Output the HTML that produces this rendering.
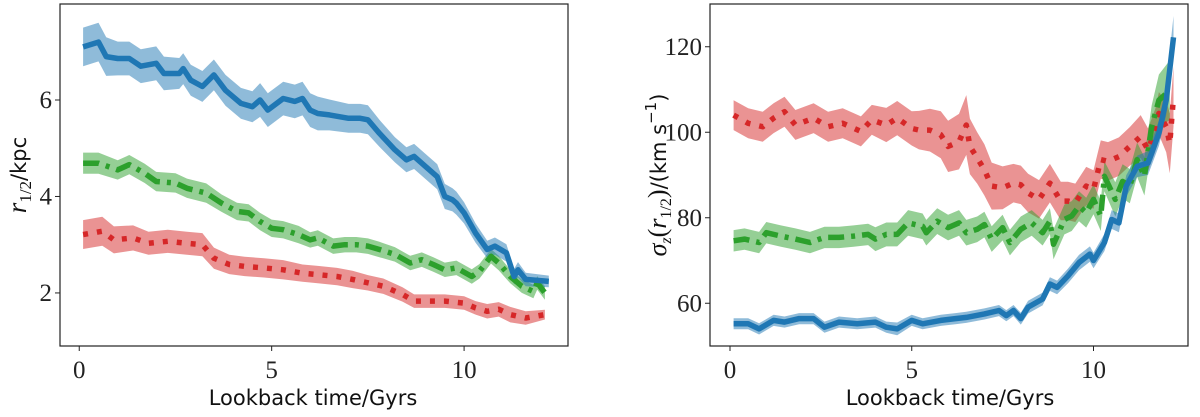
<!DOCTYPE html>
<html><head><meta charset="utf-8"><style>
html,body{margin:0;padding:0;background:#fff;}
svg{display:block;}
.tick{font-family:"Liberation Serif",serif;font-size:24px;fill:#222;}
.lab{font-family:"DejaVu Sans","Liberation Sans",sans-serif;font-size:21px;fill:#111;}
.math{font-family:"Liberation Serif",serif;font-style:italic;}
</style></head><body>
<svg id="chart" width="1200" height="417" viewBox="0 0 1200 417" xmlns="http://www.w3.org/2000/svg">
<g id="left"></g>
<g id="right"></g>
<text class="lab" x="313" y="405" text-anchor="middle">Lookback time/Gyrs</text>
<text class="lab" x="950" y="405" text-anchor="middle">Lookback time/Gyrs</text>
<text class="lab" transform="translate(26,175) rotate(-90)" text-anchor="middle" font-size="23"><tspan class="math" font-size="27">r</tspan><tspan font-size="17" dy="5" font-family="Liberation Serif">1/2</tspan><tspan dy="-5">/kpc</tspan></text>
<text class="lab" transform="translate(666,175) rotate(-90)" text-anchor="middle" font-size="22"><tspan class="math" font-size="26">σ</tspan><tspan class="math" font-size="16" dy="5">z</tspan><tspan dy="-5" font-family="Liberation Serif" font-size="26">(</tspan><tspan class="math" font-size="26">r</tspan><tspan font-size="16" dy="5" font-family="Liberation Serif">1/2</tspan><tspan dy="-5" font-family="Liberation Serif" font-size="26">)</tspan><tspan>/(km s</tspan><tspan font-size="15" dy="-10">−1</tspan><tspan dy="10">)</tspan></text>
</svg>
<script>
// ---- Left panel data (r_1/2 in kpc) ----
const lBlueX=[0.1,0.5,0.7,1.0,1.3,1.6,2.0,2.2,2.6,2.7,2.9,3.2,3.5,3.8,4.2,4.5,4.7,4.9,5.3,5.6,5.8,6.0,6.2,6.5,7.0,7.3,7.5,7.8,8.2,8.5,8.7,9.0,9.3,9.5,9.7,9.8,10.0,10.3,10.6,10.8,11.1,11.3,11.4,11.6,12.2];
const lBlueY=[7.10,7.2,6.9,6.86,6.86,6.7,6.76,6.55,6.55,6.65,6.41,6.28,6.52,6.2,5.93,5.86,6.0,5.79,6.03,5.97,6.03,5.79,5.72,5.69,5.62,5.62,5.59,5.31,4.97,4.76,4.83,4.62,4.41,4.0,3.93,3.86,3.66,3.24,2.9,2.97,2.83,2.34,2.48,2.28,2.24];
const lBlueE=[0.4,0.4,0.4,0.35,0.35,0.35,0.35,0.35,0.32,0.32,0.32,0.32,0.32,0.32,0.32,0.32,0.35,0.35,0.35,0.35,0.35,0.35,0.35,0.32,0.3,0.3,0.3,0.28,0.26,0.26,0.26,0.26,0.26,0.26,0.24,0.24,0.22,0.2,0.18,0.18,0.18,0.16,0.16,0.14,0.12];
const lGreenX=[0.1,0.5,1.0,1.3,1.7,2.0,2.5,2.8,3.3,3.7,4.1,4.4,4.7,5.0,5.3,5.7,6.0,6.2,6.6,6.9,7.2,7.5,7.8,8.2,8.6,8.9,9.2,9.5,9.8,10.2,10.4,10.7,10.9,11.2,11.5,11.8,11.9,12.1];
const lGreenY=[4.69,4.69,4.55,4.66,4.48,4.31,4.28,4.17,4.07,3.86,3.69,3.66,3.48,3.34,3.31,3.21,3.1,3.14,2.97,3.0,3.0,2.97,2.9,2.8,2.62,2.69,2.59,2.48,2.52,2.34,2.45,2.76,2.62,2.34,2.14,2.03,2.21,2.0];
const lGreenE=[0.22,0.22,0.2,0.2,0.2,0.2,0.2,0.2,0.2,0.18,0.18,0.18,0.18,0.18,0.18,0.18,0.16,0.16,0.16,0.16,0.16,0.16,0.16,0.15,0.15,0.15,0.15,0.15,0.15,0.15,0.15,0.15,0.15,0.14,0.14,0.14,0.14,0.14];
const lRedX=[0.1,0.6,0.9,1.4,1.8,2.3,2.8,3.2,3.5,3.9,4.3,4.8,5.3,5.8,6.2,6.7,7.1,7.5,7.9,8.4,8.7,9.1,9.5,10.0,10.3,10.6,10.9,11.2,11.6,12.1];
const lRedY=[3.21,3.28,3.1,3.14,3.03,3.07,3.03,3.0,2.72,2.59,2.55,2.52,2.48,2.41,2.38,2.34,2.28,2.21,2.14,1.97,1.83,1.83,1.83,1.79,1.69,1.62,1.66,1.55,1.48,1.55];
const lRedE=[0.3,0.3,0.28,0.26,0.24,0.24,0.24,0.24,0.22,0.2,0.2,0.2,0.2,0.18,0.18,0.18,0.18,0.16,0.16,0.15,0.14,0.14,0.14,0.14,0.14,0.15,0.15,0.16,0.14,0.1];
const lXTicks=[0,5,10];
const lYTicks=[2,4,6];
// ---- Right panel data (sigma_z in km/s) ----
const rBlueX=[0.1,0.5,0.8,1.2,1.5,1.9,2.3,2.6,3.0,3.5,4.0,4.3,4.6,5.0,5.3,5.8,6.2,6.5,7.0,7.4,7.6,7.8,8.0,8.2,8.6,8.8,9.0,9.3,9.6,9.9,10.0,10.3,10.5,10.7,10.9,11.2,11.5,11.8,12.0,12.2];
const rBlueY=[55.2,55.2,54,56,55.6,56.4,56.4,54.4,55.6,55.2,55.6,54.4,54,56,55.2,56,56.4,56.7,57.5,58.3,57.1,58.3,56.4,59.1,61,64.5,63.7,66.4,69.5,71.5,70,74.2,79.6,78.8,87.4,92,92.8,99.8,107.5,122.2];
const rBlueE=[1.3,1.3,1.3,1.3,1.3,1.3,1.3,1.3,1.3,1.3,1.3,1.3,1.5,1.3,1.3,1.3,1.3,1.3,1.3,1.3,1.3,1.3,1.4,1.5,1.5,1.6,1.6,1.7,1.8,1.8,1.8,2,2.2,2.2,2.5,2.5,2.8,3,3.5,5];
const rGreenX=[0.1,0.4,0.8,1.0,1.4,1.8,2.2,2.6,3.0,3.4,3.8,4.0,4.3,4.6,4.9,5.3,5.4,5.7,6.0,6.3,6.5,6.8,7.0,7.2,7.5,7.7,8.0,8.3,8.6,8.8,8.9,9.2,9.4,9.6,9.8,10.0,10.2,10.3,10.6,10.8,11.0,11.2,11.4,11.6,11.8,12.1];
const rGreenY=[74.6,75,74.2,76.5,75.7,75,74.2,75.4,75.4,75.7,76.1,75,76.1,76.1,78.8,78,76.5,79.2,77.7,78.8,76.5,77.3,78.4,75,77.7,74.2,77.3,78.8,76.5,79.2,73.8,79.6,80.4,82.7,81.2,84.3,80.4,89.7,84.3,88.5,87.4,93.6,89.7,101.3,107.5,109.8];
const rGreenE=[2.5,2.5,2.5,2.5,2.5,2.5,2.5,2.5,2.5,2.5,2.5,2.8,2.8,2.8,3,3,3,3,3,3,3,3,3,3,3,3,3,3,3,3,3.5,3.5,3.5,3.5,3.5,3.5,3.5,3.5,4,4,4,4,4.5,5,6,7];
const rRedX=[0.1,0.5,0.9,1.2,1.5,1.8,2.3,2.7,3.1,3.6,3.9,4.3,4.6,5.0,5.2,5.5,5.8,6.0,6.3,6.5,6.6,6.8,7.0,7.2,7.5,7.8,8.0,8.2,8.5,8.8,9.1,9.3,9.5,9.8,10.0,10.2,10.4,10.7,11.0,11.3,11.5,11.7,11.8,12.0,12.1,12.2];
const rRedY=[104,102.1,101.3,103.3,104.8,101.7,103.3,101.3,102.1,100.2,102.9,101.7,103.3,100.9,100.5,100.5,99.4,96.7,97.8,101.7,96.7,94,91.2,87.4,87,88.1,87.7,85.8,84.3,88.1,83.9,83.9,83.5,87.4,86.6,93.6,93.2,94.3,96.7,99,95.9,100.5,104.4,101.3,97.4,108.3];
const rRedE=[3.5,3.5,3.5,3.5,3.5,3.5,3.5,3.5,3.5,3.5,3.5,4,4,4,4.5,5,5.5,6,6.5,7,6.5,6,6,5.5,5,4.5,4.5,4.5,4.5,4.5,4.5,4.5,4.5,4.5,4.5,4.5,4.5,4.5,4.5,5,5,5,5,6,7,7];
const rXTicks=[0,5,10];
const rYTicks=[60,80,100,120];

const NS='http://www.w3.org/2000/svg';
function mk(tag,attrs,parent){const e=document.createElementNS(NS,tag);for(const k in attrs)e.setAttribute(k,attrs[k]);parent.appendChild(e);return e;}
function panel(g,box,xd,yd,xt,yt,series,pfx){
  const sx=v=>box.x0+(v-xd[0])/(xd[1]-xd[0])*(box.x1-box.x0);
  const sy=v=>box.y1-(v-yd[0])/(yd[1]-yd[0])*(box.y1-box.y0);
  const clipId=pfx+'clip';
  const defs=mk('defs',{},g);
  const cp=mk('clipPath',{id:clipId},defs);
  mk('rect',{x:box.x0,y:box.y0,width:box.x1-box.x0,height:box.y1-box.y0},cp);
  const plot=mk('g',{'clip-path':'url(#'+clipId+')'},g);
  
  
  series.forEach(s=>{
    let up=s.x.map((v,i)=>sx(v).toFixed(1)+','+sy(s.y[i]+s.e[i]).toFixed(1));
    let dn=s.x.map((v,i)=>sx(v).toFixed(1)+','+sy(s.y[i]-s.e[i]).toFixed(1)).reverse();
    const band=mk('polygon',{points:up.concat(dn).join(' '),fill:s.c,'fill-opacity':0.5,stroke:'none'},plot);
    
    
  });
  series.forEach(s=>{
    const pts=s.x.map((v,i)=>sx(v).toFixed(1)+','+sy(s.y[i]).toFixed(1)).join(' ');
    const a={points:pts,fill:'none',stroke:s.c,'stroke-width':5.5,'stroke-linejoin':'round'};
    if(s.d)a['stroke-dasharray']=s.d;
    const l=mk('polyline',a,plot);
    
    
  });
  const fr=mk('rect',{x:box.x0,y:box.y0,width:box.x1-box.x0,height:box.y1-box.y0,fill:'none',stroke:'#222','stroke-width':1.2},g);
  
  
  xt.forEach(v=>{
    mk('line',{x1:sx(v),x2:sx(v),y1:box.y1,y2:box.y1+5,stroke:'#222','stroke-width':1},g);
    const t=mk('text',{x:sx(v),y:box.y1+32,'text-anchor':'middle',class:'tick',style:'font-size:25px'},g);
    t.textContent=v;
    
    
  });
  yt.forEach(v=>{
    mk('line',{x1:box.x0-5,x2:box.x0,y1:sy(v),y2:sy(v),stroke:'#222','stroke-width':1},g);
    const t=mk('text',{x:box.x0-8,y:sy(v)+8,'text-anchor':'end',class:'tick',style:'font-size:25px'},g);
    t.textContent=v;
    
    
  });
}
const B='#1f77b4',G='#2ca02c',R='#d62728';
panel(document.getElementById('left'),{x0:60,x1:568,y0:4,y1:346},[-0.5,12.7],[0.90,7.99],lXTicks,lYTicks,[
  {n:'red',x:lRedX,y:lRedY,e:lRedE,c:R,d:'5 9'},
  {n:'green',x:lGreenX,y:lGreenY,e:lGreenE,c:G,d:'16 7 4 7'},
  {n:'blue',x:lBlueX,y:lBlueY,e:lBlueE,c:B}
],'left');
panel(document.getElementById('right'),{x0:710,x1:1188,y0:4,y1:346},[-0.55,12.6],[50,130],rXTicks,rYTicks,[
  {n:'red',x:rRedX,y:rRedY,e:rRedE,c:R,d:'5 9'},
  {n:'green',x:rGreenX,y:rGreenY,e:rGreenE,c:G,d:'16 7 4 7'},
  {n:'blue',x:rBlueX,y:rBlueY,e:rBlueE,c:B}
],'right');
</script>
</body></html>
